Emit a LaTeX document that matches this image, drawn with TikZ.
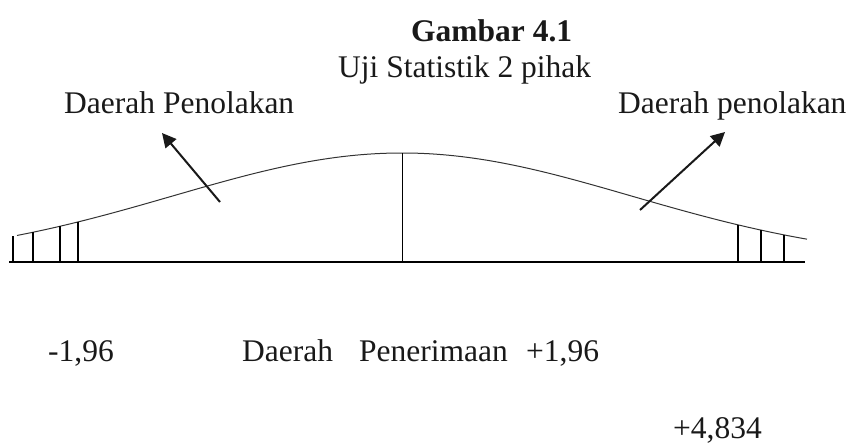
\documentclass[tikz,border=0pt]{standalone}
\usepackage{fontspec}
\setmainfont{Liberation Serif}
\usetikzlibrary{arrows.meta}
\tikzset{
  lbl/.style={inner sep=0pt, anchor=base west, text=black!90, font=\fontsize{31.5}{38}\selectfont},
  pointer/.style={-{Triangle[length=14pt,width=14pt]}, line width=2pt, black!90},
  hatch/.style={line width=1.2pt},
  declare function={bell(\t)=262-109*exp(-0.5*((\t-402)/229)^2);}
}
\begin{document}
\begin{tikzpicture}[x=1pt,y=-1pt]
				\useasboundingbox (0,0) rectangle (851,445);
				\node[lbl,font=\bfseries\fontsize{31.5}{38}\selectfont] (judul) at (411,41) {Gambar 4.1};
				\node[lbl] (sub) at (338,77) {Uji Statistik 2 pihak};
				\node[lbl] (tolakkiri) at (64,113) {Daerah Penolakan};
				\node[lbl] (tolakkanan) at (618,113) {Daerah penolakan};
				\node[lbl] (zkiri) at (48,361) {-1,96};
				\node[lbl] (terima) at (242,361) {Daerah\hspace{26pt}Penerimaan};
				\node[lbl] (zkanan) at (526,361) {+1,96};
				\node[lbl] (zhitung) at (673,438) {+4,834};
				% kurva normal
				\draw[line width=1pt, black!80] plot[domain=17:807, samples=120] (\x,{bell(\x)});
				\draw[hatch] (9,262) -- (805,262);
				\draw[line width=1pt] (402,262) -- (402,153);
				\foreach \xx in {13,33,60,78,738,761,784}
					\draw[hatch] (\xx,262) -- (\xx,{bell(\xx)});
				% panah
				\coordinate (ekorkiri) at (220,202);
				\coordinate (ujungkiri) at (162,133);
				\coordinate (ekorkanan) at (640,210);
				\coordinate (ujungkanan) at (725,132);
				\draw[pointer] (ekorkiri) -- (ujungkiri);
				\draw[pointer] (ekorkanan) -- (ujungkanan);
			\end{tikzpicture}
\end{document}
